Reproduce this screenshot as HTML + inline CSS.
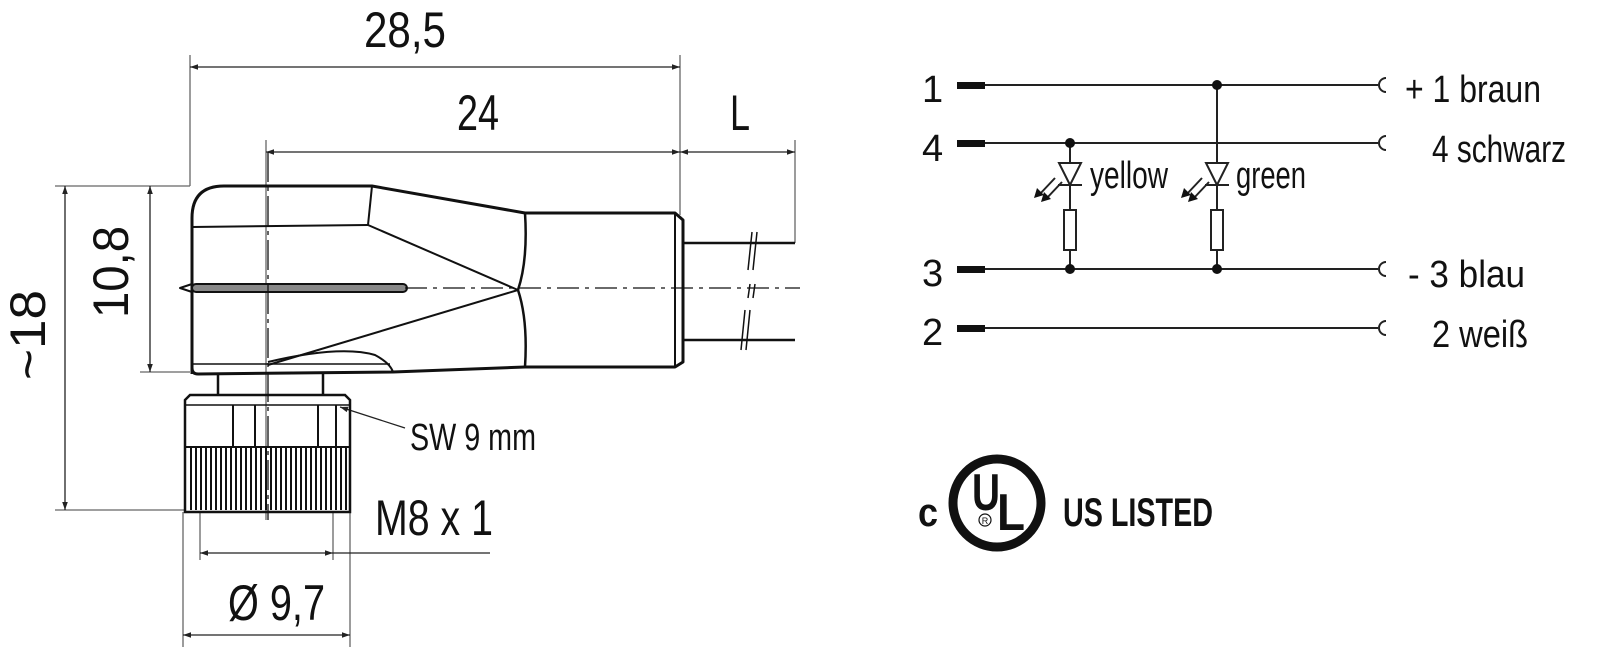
<!DOCTYPE html>
<html><head><meta charset="utf-8"><style>html,body{margin:0;padding:0;background:#fff}svg{display:block}text{font-family:"Liberation Sans",sans-serif;fill:#111}</style></head><body>
<svg width="1599" height="663" viewBox="0 0 1599 663" xmlns="http://www.w3.org/2000/svg">
<defs><marker id="a" viewBox="0 0 10 10" refX="10" refY="5" markerWidth="14" markerHeight="8" markerUnits="userSpaceOnUse" orient="auto-start-reverse"><path d="M0,1.5L10,5L0,8.5z" fill="#222"/></marker></defs>
<g stroke="#666" stroke-width="1.3" fill="none">
<line x1="190" y1="55" x2="190" y2="186"/><line x1="680" y1="55" x2="680" y2="215"/>
<line x1="266" y1="140" x2="266" y2="520"/><line x1="795" y1="140" x2="795" y2="243"/>
<line x1="55" y1="186" x2="190" y2="186"/><line x1="55" y1="510" x2="185" y2="510"/>
<line x1="140" y1="372" x2="190" y2="372"/>
<line x1="183" y1="512" x2="183" y2="647"/><line x1="350" y1="512" x2="350" y2="647"/>
<line x1="200" y1="512" x2="200" y2="560"/><line x1="333" y1="512" x2="333" y2="560"/>
</g>
<g stroke="#222" stroke-width="1.3" fill="none">
<line x1="190" y1="67" x2="680" y2="67" marker-start="url(#a)" marker-end="url(#a)"/>
<line x1="266" y1="152" x2="680" y2="152" marker-start="url(#a)" marker-end="url(#a)"/>
<line x1="680" y1="152" x2="795" y2="152" marker-start="url(#a)" marker-end="url(#a)"/>
<line x1="65" y1="186" x2="65" y2="510" marker-start="url(#a)" marker-end="url(#a)"/>
<line x1="150" y1="186" x2="150" y2="372" marker-start="url(#a)" marker-end="url(#a)"/>
<line x1="183" y1="635" x2="350" y2="635" marker-start="url(#a)" marker-end="url(#a)"/>
<line x1="200" y1="553" x2="333" y2="553" marker-start="url(#a)" marker-end="url(#a)"/>
<line x1="333" y1="553" x2="490" y2="553"/>
<line x1="405" y1="428" x2="340" y2="407" marker-end="url(#a)"/>
</g>
<g font-size="50">
<text x="364" y="47" textLength="82" lengthAdjust="spacingAndGlyphs">28,5</text>
<text x="457" y="130" textLength="42" lengthAdjust="spacingAndGlyphs">24</text>
<text x="730" y="130" textLength="20" lengthAdjust="spacingAndGlyphs">L</text>
<text transform="translate(45,335) rotate(-90)" text-anchor="middle" textLength="90" lengthAdjust="spacingAndGlyphs">~18</text>
<text transform="translate(128,272) rotate(-90)" text-anchor="middle" textLength="92" lengthAdjust="spacingAndGlyphs">10,8</text>
<text x="228" y="620" textLength="97" lengthAdjust="spacingAndGlyphs">Ø 9,7</text>
<text x="375" y="535" textLength="118" lengthAdjust="spacingAndGlyphs">M8 x 1</text>
</g>
<text x="410" y="450" font-size="38" textLength="126" lengthAdjust="spacingAndGlyphs">SW 9 mm</text>
<!-- body -->
<g stroke="#111" stroke-width="3" fill="none" stroke-linejoin="round">
<path d="M192,374 L192,218 Q192,186 224,186 L372,186 L525,213 L675,213 L683,220 L683,362 L675,367 L525,367 L393,372 L198,374 Q192,374 192,368"/>
<path d="M525,213 Q528,260 518,290 Q528,320 525,367" stroke-width="2.5"/>
<line x1="372" y1="186" x2="368" y2="225" stroke-width="2"/>
<line x1="192" y1="227" x2="368" y2="225" stroke-width="2"/>
<line x1="368" y1="225" x2="518" y2="290" stroke-width="2"/>
<line x1="518" y1="290" x2="268" y2="365" stroke-width="2"/>
<path d="M268,362 Q340,345 375,355 Q390,363 393,372" stroke-width="2"/>
<line x1="675" y1="213" x2="675" y2="367" stroke-width="2"/>
<path d="M683,243 L795,243 M683,340 L795,340" stroke-width="2.5"/>
<rect x="192" y="284" width="215" height="8" rx="4" fill="#888" stroke-width="2"/>
<path d="M192,284 L180,288 L192,292" stroke-width="2"/>
<line x1="192" y1="364" x2="390" y2="364" stroke-width="1.5"/>
</g>
<line x1="405" y1="288" x2="800" y2="288" stroke="#111" stroke-width="1.3" stroke-dasharray="22,6,4,6"/>
<line x1="268" y1="152" x2="268" y2="520" stroke="#111" stroke-width="1.3" stroke-dasharray="30,5,4,5"/>
<g stroke="#111" stroke-width="1.5"><path d="M752,232L748,270M757,232L753,270M750,284L748,298M755,284L753,298M745,310L741,350M750,310L746,350"/></g>
<!-- nut -->
<g stroke="#111" stroke-width="2.5" fill="none">
<path d="M218,374 L218,395 M323,374 L323,395"/>
<path d="M185,400 L190,395 L345,395 L350,400 L350,512 L185,512 Z"/>
<line x1="185" y1="405" x2="350" y2="405" stroke-width="1.5"/>
<line x1="185" y1="447" x2="350" y2="447" stroke-width="2"/>
<path d="M233,405V447M255,405V447M318,405V447M336,405V447" stroke-width="2"/>
</g>
<g stroke="#111" stroke-width="2">
<path d="M191,447V510M196,447V510M201,447V510M206,447V510M211,447V510M216,447V510M221,447V510M226,447V510M231,447V510M236,447V510M241,447V510M246,447V510M251,447V510M256,447V510M261,447V510M266,447V510M271,447V510M276,447V510M281,447V510M286,447V510M291,447V510M296,447V510M301,447V510M306,447V510M311,447V510M316,447V510M321,447V510M326,447V510M331,447V510M336,447V510M341,447V510M346,447V510"/>
</g>
<!-- schematic -->
<g stroke="#222" stroke-width="2" fill="none">
<path d="M985,85H1378M985,143H1378M985,269H1378M985,328H1378"/>
<path d="M1217,85V269M1070,143V269"/>
<path d="M1386,78a7,7 0 0 0 0,14M1386,136a7,7 0 0 0 0,14M1386,262a7,7 0 0 0 0,14M1386,321a7,7 0 0 0 0,14"/>
<path d="M1059,163H1081L1070,185Z M1058,185H1082 M1206,163H1228L1217,185Z M1205,185H1229" fill="#fff"/>
<rect x="1064" y="210" width="12" height="40" fill="#fff"/><rect x="1211" y="210" width="12" height="40" fill="#fff"/>
<path d="M1055,178L1039,195M1062,182L1046,199M1202,178L1186,195M1209,182L1193,199"/>
</g>
<g fill="#111">
<rect x="957" y="82" width="28" height="7"/><rect x="957" y="140" width="28" height="7"/><rect x="957" y="266" width="28" height="7"/><rect x="957" y="325" width="28" height="7"/>
<circle cx="1217" cy="85" r="5"/><circle cx="1217" cy="269" r="5"/><circle cx="1070" cy="143" r="5"/><circle cx="1070" cy="269" r="5"/>
<path d="M1034,198l3,-10l7,7z M1041,202l3,-10l7,7z M1181,198l3,-10l7,7z M1188,202l3,-10l7,7z"/>
</g>
<g font-size="38">
<text x="922" y="102">1</text><text x="922" y="161">4</text><text x="922" y="286">3</text><text x="922" y="345">2</text>
<text x="1090" y="188" textLength="78" lengthAdjust="spacingAndGlyphs">yellow</text>
<text x="1236" y="188" textLength="70" lengthAdjust="spacingAndGlyphs">green</text>
<text x="1405" y="102" textLength="136" lengthAdjust="spacingAndGlyphs">+ 1  braun</text>
<text x="1432" y="162" textLength="134" lengthAdjust="spacingAndGlyphs">4  schwarz</text>
<text x="1408" y="287" textLength="117" lengthAdjust="spacingAndGlyphs">- 3  blau</text>
<text x="1432" y="347" textLength="96" lengthAdjust="spacingAndGlyphs">2  weiß</text>
</g>
<!-- UL -->
<circle cx="997" cy="503" r="44" stroke="#111" stroke-width="9" fill="none"/>
<g font-weight="bold" font-size="40">
<text x="918" y="526" textLength="20" lengthAdjust="spacingAndGlyphs">c</text>
<text x="1063" y="526" textLength="150" lengthAdjust="spacingAndGlyphs">US LISTED</text>
<text x="972" y="510" font-size="52" textLength="28" lengthAdjust="spacingAndGlyphs">U</text>
<text x="997" y="530" font-size="52" textLength="28" lengthAdjust="spacingAndGlyphs">L</text>
</g>
<circle cx="985" cy="520" r="6" stroke="#111" stroke-width="1.2" fill="#fff"/>
<text x="985" y="524" font-size="9" text-anchor="middle">R</text>
</svg>
</body></html>
